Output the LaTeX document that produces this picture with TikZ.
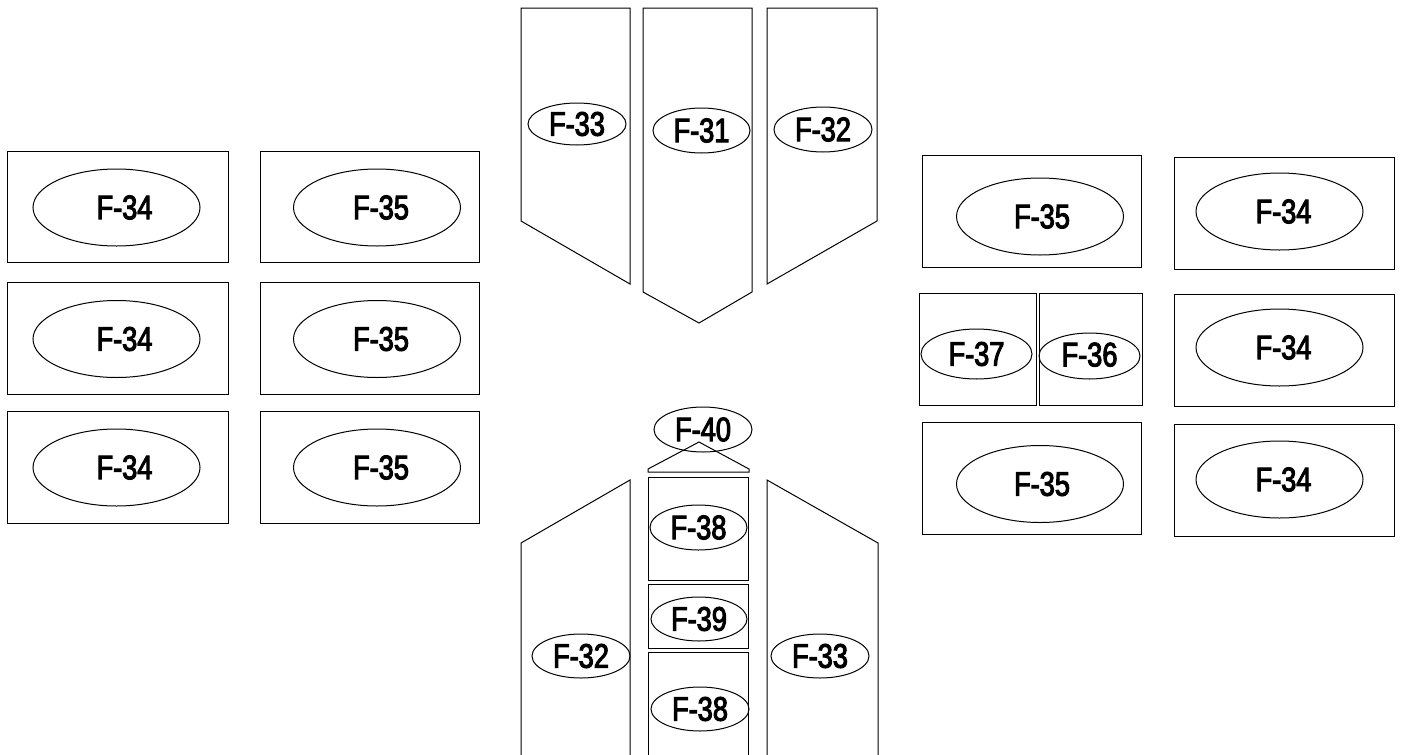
\documentclass[tikz,border=0pt]{standalone}
\usepackage{fontspec}
\setmainfont{Liberation Sans}[FakeStretch=0.8,FakeBold=3]
\usetikzlibrary{shapes.geometric}
\begin{document}
\begin{tikzpicture}[x=1pt,y=-1pt,line width=1pt,
  panel/.style={draw,rectangle,inner sep=0pt},
  oval/.style={draw,ellipse,inner sep=0pt,font=\fontsize{34}{36}\selectfont},
  big/.style={oval,minimum width=167pt,minimum height=77pt}]
\useasboundingbox (0,0) rectangle (1403,755);
% ---------- left group ----------
\node[panel,minimum width=221pt,minimum height=111pt] (L11) at (117.5,206.5) {};
\node[panel,minimum width=219pt,minimum height=111pt] (L12) at (369.5,206.5) {};
\node[panel,minimum width=221pt,minimum height=112pt] (L21) at (117.5,338) {};
\node[panel,minimum width=219pt,minimum height=112pt] (L22) at (369.5,338) {};
\node[panel,minimum width=221pt,minimum height=112pt] (L31) at (117.5,467) {};
\node[panel,minimum width=219pt,minimum height=112pt] (L32) at (369.5,467) {};
\node[big] (e11) at (116.5,207.5) {\hspace*{16pt}F-34};
\node[big] (e12) at (377,207.5) {\hspace*{8pt}F-35};
\node[big] (e21) at (116.5,339) {\hspace*{16pt}F-34};
\node[big] (e22) at (377,339) {\hspace*{8pt}F-35};
\node[big] (e31) at (116.5,467.5) {\hspace*{16pt}F-34};
\node[big] (e32) at (377,467.5) {\hspace*{8pt}F-35};
% ---------- right group ----------
\node[panel,minimum width=219pt,minimum height=112pt] (R11) at (1031.5,211) {};
\node[panel,minimum width=220pt,minimum height=112pt] (R12) at (1284,213) {};
\node[panel,minimum width=117pt,minimum height=112pt] (R21a) at (977.5,349) {};
\node[panel,minimum width=103pt,minimum height=112pt] (R21b) at (1090.5,349) {};
\node[panel,minimum width=220pt,minimum height=112pt] (R22) at (1284,350) {};
\node[panel,minimum width=219pt,minimum height=112pt] (R31) at (1031.5,478) {};
\node[panel,minimum width=220pt,minimum height=112pt] (R32) at (1284,480) {};
\node[big] (f11) at (1040,216.5) {\hspace*{4pt}F-35};
\node[big] (f12) at (1279.5,211.5) {\hspace*{8pt}F-34};
\node[oval,minimum width=111pt,minimum height=50pt] (f21a) at (976.5,354) {F-37};
\node[oval,minimum width=101pt,minimum height=46pt] (f21b) at (1089.5,356) {\raisebox{3pt}{F-36}};
\node[big] (f22) at (1279.5,347.5) {\hspace*{8pt}F-34};
\node[big] (f31) at (1040,484) {\hspace*{4pt}F-35};
\node[big] (f32) at (1279.5,479.5) {\hspace*{8pt}F-34};
% ---------- top centre ----------
\draw (521,8) -- (630,8) -- (630,284) -- (521,221) -- cycle;
\draw (643,8) -- (752,8) -- (752,292) -- (699,323) -- (643,292) -- cycle;
\draw (767,8) -- (877,8) -- (877,221) -- (767,284) -- cycle;
\node[oval,minimum width=98pt,minimum height=42pt] (t33) at (577,124) {F-33};
\node[oval,minimum width=97pt,minimum height=45pt] (t31) at (701.5,130.5) {F-31};
\node[oval,minimum width=98pt,minimum height=45pt] (t32) at (823,129.5) {F-32};
% ---------- bottom centre ----------
\draw (648,472) -- (648,469) -- (699,442) -- (749,469) -- (749,472) -- cycle;
\draw (521,755) -- (521,543) -- (630,480) -- (630,755);
\draw (767,755) -- (767,480) -- (878,543) -- (878,755);
\node[panel,minimum width=100pt,minimum height=103pt] (B1) at (698,528.5) {};
\node[panel,minimum width=100pt,minimum height=64pt] (B2) at (698,616) {};
\draw (648,755) -- (648,652) -- (748,652) -- (748,755);
\node[oval,minimum width=98pt,minimum height=45pt] (b40) at (703,429.5) {F-40};
\node[oval,minimum width=97pt,minimum height=45pt] (b38a) at (698.5,527.5) {F-38};
\node[oval,minimum width=96pt,minimum height=44pt] (b39) at (699,619) {F-39};
\node[oval,minimum width=98pt,minimum height=44pt] (b32) at (581,656) {F-32};
\node[oval,minimum width=98pt,minimum height=44pt] (b33) at (820,656) {F-33};
\node[oval,minimum width=98pt,minimum height=44pt] (b38b) at (700,709) {F-38};
\end{tikzpicture}
\end{document}
